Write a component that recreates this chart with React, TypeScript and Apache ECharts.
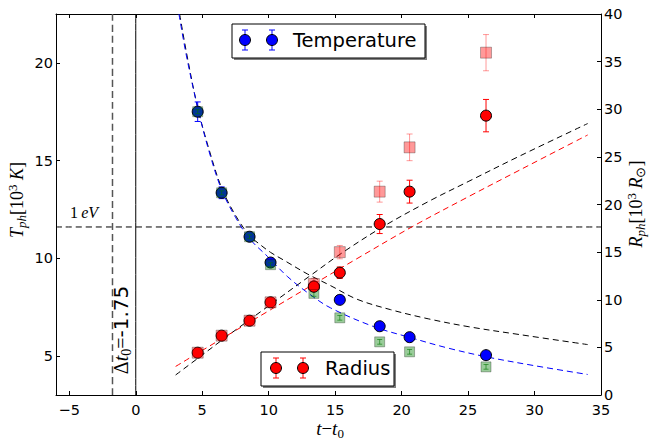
import React, { useEffect, useRef } from "react";
import * as echarts from "echarts";

// ---- data ----
const epochs = [4.66, 6.46, 8.56, 10.14, 13.4, 15.35, 18.35, 20.6, 26.35];
const tempBlue = [17.5, 13.35, 11.1, 9.78, 8.56, 7.87, 6.52, 5.96, 5.04];
const tempBlueErr = [0.5, 0.3, 0.2, 0.2, 0.2, 0.15, 0.1, 0.1, 0.1];
const tempGreen = [17.5, 13.35, 11.1, 9.67, 8.2, 6.95, 5.72, 5.21, 4.44];
const tempGreenErr = [0.1, 0.1, 0.1, 0.1, 0.15, 0.12, 0.12, 0.12, 0.12];
const radiusRed = [4.44, 6.23, 7.8, 9.73, 11.37, 12.84, 17.95, 21.35, 29.33];
const radiusRedErr = [0.3, 0.3, 0.35, 0.4, 0.5, 0.6, 1.0, 1.2, 1.7];
const radiusPink = [4.44, 6.23, 7.8, 9.73, 11.65, 15.0, 21.35, 26.0, 35.94];
const radiusPinkErr = [0.3, 0.3, 0.4, 0.45, 0.6, 0.7, 1.1, 1.4, 1.9];

// fitted curves
const tFitBlueX = [3.25, 3.8, 4.66, 5.5, 6.46, 7.5, 8.56, 9.9, 11.4, 13, 14.65, 17.9, 20.6, 23.5, 26.4, 30, 34];
const tFitBlueY = [22.5, 20.4, 17.7, 15.5, 13.5, 12.1, 11.0, 10.1, 9.07, 8.2, 7.46, 6.5, 5.95, 5.4, 4.95, 4.5, 4.05];
const tFitBlackX = [3.3, 3.85, 4.66, 5.5, 6.46, 7.5, 8.56, 9.26, 10.14, 11.14, 12.9, 14.65, 16.65, 19.16, 22, 25, 28.9, 34];
const tFitBlackY = [22.5, 20.4, 17.7, 15.6, 13.6, 12.2, 11.15, 10.75, 10.3, 9.9, 9.2, 8.6, 7.9, 7.37, 6.9, 6.5, 6.09, 5.58];
const rFitRedX = [3.0, 6.46, 10.14, 13.4, 16.5, 20.8, 25, 29, 34];
const rFitRedY = [3.0, 5.9, 8.95, 11.65, 14.2, 17.67, 20.8, 23.7, 27.3];
const rFitBlackX = [3.0, 5, 7, 9.4, 13.0, 15.5, 18.6, 22, 25, 28.9, 34];
const rFitBlackY = [2.1, 4.2, 6.3, 8.75, 12.4, 14.9, 17.67, 20.3, 22.4, 25.1, 28.5];

const ONE_EV = 11.6;
const DT0 = -1.75;
const xTicks = [-5, 0, 5, 10, 15, 20, 25, 30, 35];
const yLeftTicks = [5, 10, 15, 20];
const X_MIN = -6, X_MAX = 35, YL_MIN = 3, YL_MAX = 22.5;

const toXY = (xs: number[], ys: number[]) => xs.map((x, i) => [x, ys[i]]);
const toErr = (xs: number[], ys: number[], es: number[]) => xs.map((x, i) => [x, ys[i], es[i]]);

function errRender(color: string, cap: number) {
  return (params: any, api: any) => {
    const x = api.value(0), y = api.value(1), e = api.value(2);
    const top = api.coord([x, y + e]);
    const bot = api.coord([x, y - e]);
    const style = { stroke: color, lineWidth: 1, fill: "none" };
    return {
      type: "group",
      children: [
        { type: "line", shape: { x1: top[0], y1: top[1], x2: bot[0], y2: bot[1] }, style },
        { type: "line", shape: { x1: top[0] - cap, y1: top[1], x2: top[0] + cap, y2: top[1] }, style },
        { type: "line", shape: { x1: bot[0] - cap, y1: bot[1], x2: bot[0] + cap, y2: bot[1] }, style },
      ],
    };
  };
}

const SERIF = "Liberation Serif";
const SANS = "DejaVu Sans";
const richMath = (size: number) => ({
  i: { fontFamily: SERIF, fontStyle: "italic", fontSize: size, lineHeight: size + 4, verticalAlign: "middle", color: "#000" },
  n: { fontFamily: SERIF, fontSize: size, lineHeight: size + 4, verticalAlign: "middle", color: "#000" },
  s: { fontFamily: SANS, fontSize: size, lineHeight: size + 4, verticalAlign: "middle", color: "#000" },
  sub: { fontFamily: SERIF, fontStyle: "italic", fontSize: Math.round(size * 0.7), lineHeight: 10, verticalAlign: "bottom", color: "#000" },
  subn: { fontFamily: SERIF, fontSize: Math.round(size * 0.7), lineHeight: 10, verticalAlign: "bottom", color: "#000" },
  sup: { fontFamily: SERIF, fontSize: Math.round(size * 0.7), lineHeight: 10, verticalAlign: "top", color: "#000" },
});

function legendBox(x0: number, y0: number, x1: number, y1: number, markerXs: number[], my: number, color: string, label: string, tx: number) {
  const els: any[] = [
    { type: "rect", shape: { x: x0 + 2, y: y0 + 2, width: x1 - x0, height: y1 - y0 }, style: { fill: "rgba(0,0,0,0.5)" } },
    { type: "rect", shape: { x: x0, y: y0, width: x1 - x0, height: y1 - y0 }, style: { fill: "#fff", stroke: "#000", lineWidth: 1 } },
  ];
  markerXs.forEach((mx) => {
    const st = { stroke: color, lineWidth: 1 };
    els.push({ type: "line", shape: { x1: mx, y1: my - 10, x2: mx, y2: my + 10 }, style: st });
    els.push({ type: "line", shape: { x1: mx - 3, y1: my - 10, x2: mx + 3, y2: my - 10 }, style: st });
    els.push({ type: "line", shape: { x1: mx - 3, y1: my + 10, x2: mx + 3, y2: my + 10 }, style: st });
    els.push({ type: "circle", shape: { cx: mx, cy: my, r: 5.5 }, style: { fill: color, stroke: "#000", lineWidth: 1 } });
  });
  els.push({
    type: "text", x: tx, y: my, style: { text: label, font: `19.5px "${SANS}"`, fill: "#000", align: "left", verticalAlign: "middle" },
  });
  return els;
}

export default function App() {
  const ref = useRef<HTMLDivElement>(null);
  useEffect(() => {
    if (!ref.current) return;
    const chart = echarts.init(ref.current, null, { renderer: "svg" });
    const lineSeries = (name: string, data: any[], color: string, yAxisIndex: number, dash: any, z: number, width = 1) => ({
      name, type: "line", data, yAxisIndex, showSymbol: false, symbol: "none", smooth: 0.35, silent: true, z,
      lineStyle: { type: dash, width, color },
    });
    const tickLabel = { fontFamily: SANS, fontSize: 14.5, lineHeight: 12, color: "#000" };
    const option: any = {
      animation: false,
      grid: { left: 56, right: 48, top: 14, bottom: 45, outerBoundsMode: "none", containLabel: false },
      xAxis: [
        {
          type: "value", position: "bottom", min: X_MIN, max: X_MAX,
          axisLine: { show: true, onZero: false, lineStyle: { color: "#000", width: 1 } },
          axisTick: { show: true, inside: true, length: 4, customValues: xTicks, lineStyle: { color: "#000" } },
          axisLabel: { ...tickLabel, margin: 8.5, customValues: xTicks, formatter: (v: number) => (v < 0 ? "\u2212" + Math.abs(v) : String(v)) },
          splitLine: { show: false },
        },
        {
          type: "value", position: "top", min: X_MIN, max: X_MAX,
          axisLine: { show: true, onZero: false, lineStyle: { color: "#000", width: 1 } },
          axisTick: { show: true, inside: true, length: 4, customValues: xTicks, lineStyle: { color: "#000" } },
          axisLabel: { show: false },
          splitLine: { show: false },
        },
      ],
      yAxis: [
        {
          type: "value", position: "left", min: YL_MIN, max: YL_MAX,
          axisLine: { show: true, onZero: false, lineStyle: { color: "#000", width: 1 } },
          axisTick: { show: true, inside: true, length: 4, customValues: yLeftTicks, lineStyle: { color: "#000" } },
          axisLabel: { ...tickLabel, margin: 3, customValues: yLeftTicks },
          splitLine: { show: false },
        },
        {
          type: "value", position: "right", min: 0, max: 40, interval: 5,
          axisLine: { show: true, onZero: false, lineStyle: { color: "#000", width: 1 } },
          axisTick: { show: true, inside: true, length: 4, lineStyle: { color: "#000" } },
          axisLabel: { ...tickLabel, margin: 3 },
          splitLine: { show: false },
        },
      ],
      series: [
        lineSeries("1 eV", [[X_MIN, ONE_EV], [X_MAX, ONE_EV]], "#000", 0, [6, 4], 1),
        lineSeries("dt0", [[DT0, YL_MIN], [DT0, YL_MAX]], "#555", 0, [7, 4], 1, 1.5),
        lineSeries("t0", [[0, YL_MIN], [0, YL_MAX]], "#000", 0, "solid", 1),
        lineSeries("T fit black", toXY(tFitBlackX, tFitBlackY), "#000", 0, [6, 4], 2),
        lineSeries("T fit blue", toXY(tFitBlueX, tFitBlueY), "#0000ff", 0, [6, 4], 2),
        lineSeries("R fit black", toXY(rFitBlackX, rFitBlackY), "#000", 1, [6, 4], 2),
        lineSeries("R fit red", toXY(rFitRedX, rFitRedY), "#ff0000", 1, [6, 4], 2),
        { type: "custom", name: "T err", yAxisIndex: 0, z: 3, silent: true, renderItem: errRender("#0000ff", 3), data: toErr(epochs, tempBlue, tempBlueErr) },
        { type: "scatter", name: "Temperature", yAxisIndex: 0, z: 4, silent: true, symbol: "circle", symbolSize: 11,
          itemStyle: { color: "#0000ff", borderColor: "#000", borderWidth: 1, opacity: 1 }, data: toXY(epochs, tempBlue) },
        { type: "custom", name: "T2 err", yAxisIndex: 0, z: 5, silent: true, renderItem: errRender("rgba(0,110,0,0.6)", 2.5), data: toErr(epochs, tempGreen, tempGreenErr) },
        { type: "scatter", name: "T2", yAxisIndex: 0, z: 6, silent: true, symbol: "rect", symbolSize: 10,
          itemStyle: { color: "rgba(0,128,0,0.5)", borderColor: "rgba(0,0,0,0.35)", borderWidth: 1 }, data: toXY(epochs, tempGreen) },
        { type: "custom", name: "R err", yAxisIndex: 1, z: 7, silent: true, renderItem: errRender("#ff0000", 3), data: toErr(epochs, radiusRed, radiusRedErr) },
        { type: "scatter", name: "Radius", yAxisIndex: 1, z: 8, silent: true, symbol: "circle", symbolSize: 11,
          itemStyle: { color: "#ff0000", borderColor: "#000", borderWidth: 1, opacity: 1 }, data: toXY(epochs, radiusRed) },
        { type: "custom", name: "R2 err", yAxisIndex: 1, z: 9, silent: true, renderItem: errRender("rgba(255,0,0,0.4)", 3), data: toErr(epochs, radiusPink, radiusPinkErr) },
        { type: "scatter", name: "R2", yAxisIndex: 1, z: 10, silent: true, symbol: "rect", symbolSize: 11,
          itemStyle: { color: "rgba(255,0,0,0.5)", borderColor: "rgba(0,0,0,0.35)", borderWidth: 1 }, data: toXY(epochs, radiusPink) },
      ],
      graphic: [
        ...legendBox(232, 24, 425, 58, [245, 272], 40, "#0000ff", "Temperature", 293),
        ...legendBox(261, 352, 394, 386, [276, 303], 368, "#ff0000", "Radius", 325),
        { type: "text", x: 17, y: 200, rotation: Math.PI / 2,
          style: { text: "{i|T}{sub|ph}{n|[10}{sup|3}{n| }{i|K}{n|]}", rich: richMath(18), align: "center", verticalAlign: "middle" } },
        { type: "text", x: 636, y: 204, rotation: Math.PI / 2,
          style: { text: "{i|R}{sub|ph}{n|[10}{sup|3}{n| }{i|R}{subn|\u2299}{n|]}", rich: richMath(18), align: "center", verticalAlign: "middle" } },
        { type: "text", x: 330, y: 428,
          style: { text: "{i|t}{n|\u2212}{i|t}{subn|0}", rich: richMath(19), align: "center", verticalAlign: "middle" } },
        { type: "text", x: 121, y: 330, rotation: Math.PI / 2,
          style: { text: "{n|\u0394}{i|t}{subn|0}{n|=}{s|-1.75}", rich: richMath(20), align: "center", verticalAlign: "middle" } },
        { type: "text", x: 70, y: 212,
          style: { text: "{n|1\u2009}{i|eV}", rich: richMath(16), align: "left", verticalAlign: "middle" } },
      ],
    };
    chart.setOption(option);
    return () => chart.dispose();
  }, []);
  return <div ref={ref} style={{ width: 649, height: 440, position: "absolute", left: 0, top: 0 }} />;
}
